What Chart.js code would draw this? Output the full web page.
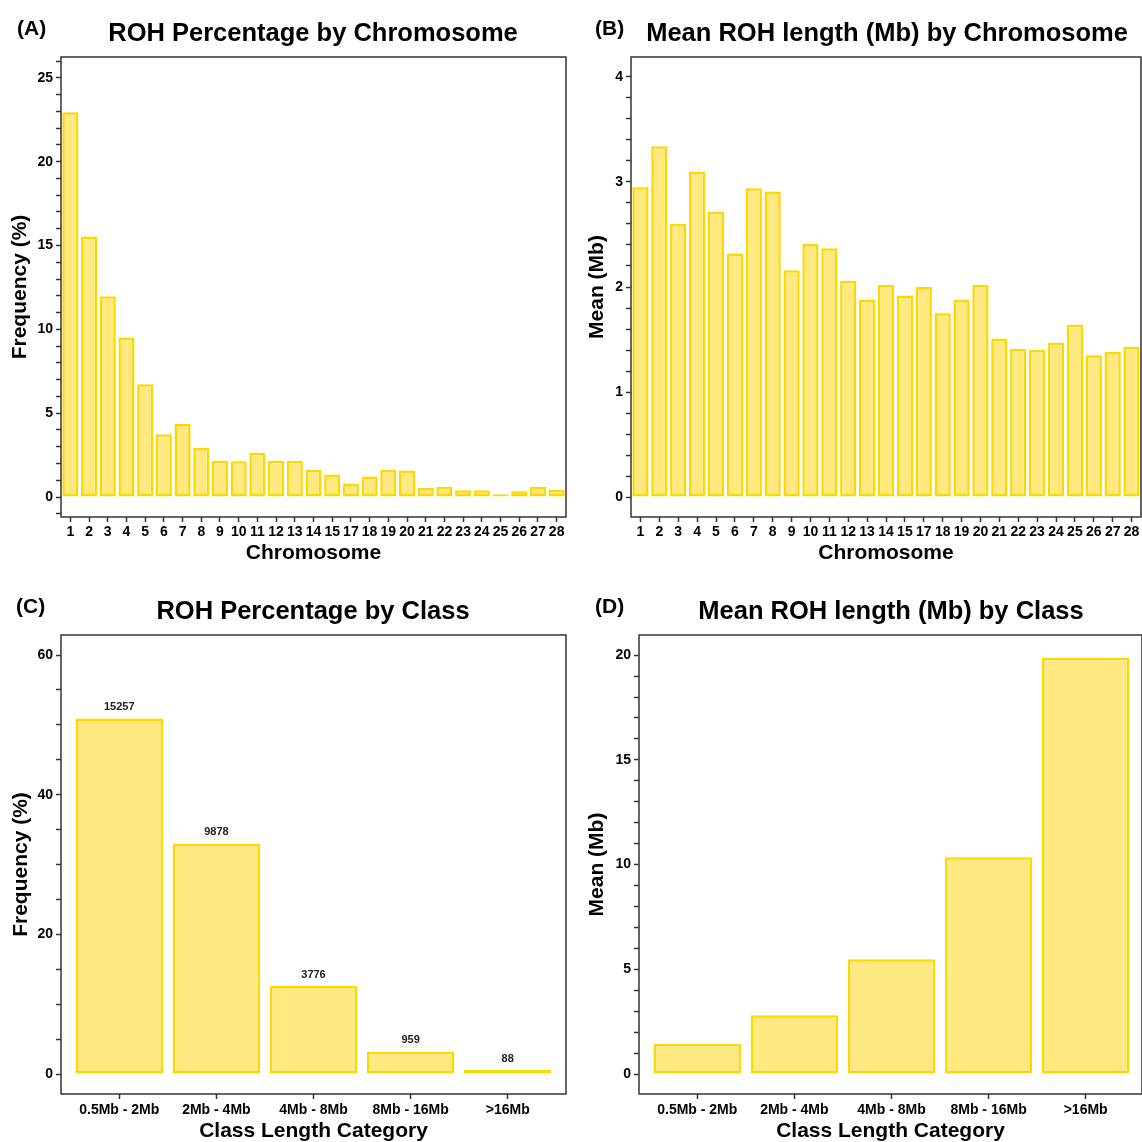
<!DOCTYPE html>
<html>
<head>
<meta charset="utf-8">
<script src="https://cdn.jsdelivr.net/npm/chart.js@4.4.0/dist/chart.umd.min.js"></script>
<style>
  body { margin: 0; background: #fff; font-family: 'Liberation Sans', Arial, sans-serif; }
  #fig { position: relative; width: 1142px; height: 1142px; overflow: hidden; }
  canvas { position: absolute; }
  .tag { position: absolute; font-weight: bold; font-size: 21px; color: #000; transform: translateY(-50%); white-space: nowrap; }
  .ttl { position: absolute; font-weight: bold; font-size: 25.5px; color: #000; transform: translate(-50%, -50%); white-space: nowrap; }
</style>
</head>
<body>
<div id="fig">
  <canvas id="chartA" width="571" height="571" style="left:0;top:0"></canvas>
  <canvas id="chartB" width="571" height="571" style="left:571px;top:0"></canvas>
  <canvas id="chartC" width="571" height="571" style="left:0;top:571px"></canvas>
  <canvas id="chartD" width="571" height="571" style="left:571px;top:571px"></canvas>

  <div class="tag" style="left:17px;top:28px">(A)</div>
  <div class="ttl" style="left:313px;top:32px">ROH Percentage by Chromosome</div>
  <div class="tag" style="left:595px;top:28px">(B)</div>
  <div class="ttl" style="left:887px;top:32px">Mean ROH length (Mb) by Chromosome</div>
  <div class="tag" style="left:16px;top:606px">(C)</div>
  <div class="ttl" style="left:313px;top:610px">ROH Percentage by Class</div>
  <div class="tag" style="left:595px;top:606px">(D)</div>
  <div class="ttl" style="left:891px;top:610px">Mean ROH length (Mb) by Class</div>
</div>

<script>
// data
var chromosomes = ['1','2','3','4','5','6','7','8','9','10','11','12','13','14','15',
                   '17','18','19','20','21','22','23','24','25','26','27','28'];
var rohPercent = [22.95, 15.54, 11.98, 9.52, 6.73, 3.75, 4.35, 2.92, 2.16, 2.14, 2.64, 2.16, 2.16, 1.63,
                  1.35, 0.81, 1.23, 1.63, 1.59, 0.54, 0.62, 0.40, 0.40, 0.16, 0.34, 0.62, 0.44];
var rohMean = [2.95, 3.34, 2.60, 3.10, 2.72, 2.32, 2.94, 2.91, 2.16, 2.41, 2.37, 2.06, 1.88, 2.02,
               1.92, 2.00, 1.75, 1.88, 2.02, 1.51, 1.41, 1.40, 1.47, 1.64, 1.35, 1.38, 1.43];
var classes = ['0.5Mb - 2Mb', '2Mb - 4Mb', '4Mb - 8Mb', '8Mb - 16Mb', '>16Mb'];
var classCount = [15257, 9878, 3776, 959, 88];
var classPercent = [50.93, 32.97, 12.60, 3.20, 0.29];
var classMean = [1.45, 2.81, 5.48, 10.35, 19.88];

Chart.defaults.font.family = "'Liberation Sans', Arial, sans-serif";
Chart.defaults.color = '#000';

var FILL = '#FFE980';
var EDGE = '#FFD700';
var AXIS = '#333';

//box around the plot area
var framePlugin = {
    id: 'frame',
    afterDatasetsDraw: function(chart) {
        var a = chart.chartArea, c = chart.ctx;
        c.save();
        c.strokeStyle = AXIS;
        c.lineWidth = 1.5;
        c.strokeRect(a.left, a.top, a.right - a.left, a.bottom - a.top);
        c.restore();
    }
};

//count labels over the bars
var countPlugin = {
    id: 'counts',
    afterDatasetsDraw: function(chart, args, opts) {
        if (!opts.labels) return;
        var c = chart.ctx;
        var bars = chart.getDatasetMeta(0).data;
        c.save();
        c.font = 'bold 11px "Liberation Sans", Arial, sans-serif';
        c.fillStyle = '#222';
        c.textAlign = 'center';
        c.textBaseline = 'bottom';
        bars.forEach(function(b, i) {
            c.fillText(opts.labels[i], b.x, b.y - 6);
        });
        c.restore();
    }
};

function yAxis(p) {
    return {
        min: p.min,
        max: p.max,
        ticks: {
            stepSize: p.step,
            includeBounds: false,
            autoSkip: false,
            padding: 3,
            font: { size: 14, weight: 'bold' },
            callback: function(v) {
                var r = v / p.major;
                return Math.abs(r - Math.round(r)) < 1e-6 ? Math.round(v) : '';
            }
        },
        grid: { drawOnChartArea: false, tickLength: 5, tickColor: AXIS, tickWidth: 1.5 },
        border: { display: false },
        title: { display: true, text: p.title, font: { size: 21, weight: 'bold' }, padding: { top: p.titlePad, bottom: 0 } },
        afterFit: function(s) { s.width = p.width; }
    };
}

function xTicks(size, pad) {
    return { autoSkip: false, maxRotation: 0, minRotation: 0, padding: pad, font: { size: size, weight: 'bold' } };
}

//(A) percentage by chromosome
new Chart(document.getElementById('chartA'), {
    type: 'bar',
    data: {
        labels: chromosomes,
        datasets: [{ data: rohPercent, backgroundColor: FILL, borderColor: EDGE, borderWidth: 2.5,
                     borderSkipped: false, barPercentage: 0.86, categoryPercentage: 1 }]
    },
    options: {
        responsive: false, animation: false,
        layout: { padding: { top: 57, right: 5, left: 0, bottom: 0 } },
        plugins: { legend: { display: false }, tooltip: { enabled: false } },
        scales: {
            x: {
                offset: true,
                grid: { offset: false, drawOnChartArea: false, tickLength: 5, tickColor: AXIS, tickWidth: 1.5 },
                border: { display: false },
                ticks: xTicks(14, 2),
                title: { display: true, text: 'Chromosome', font: { size: 21, weight: 'bold' }, padding: { top: 0, bottom: 5 } },
                afterFit: function(s) { s.height = 54; }
            },
            y: yAxis({ min: -1.19, max: 26.24, step: 1, major: 5, title: 'Frequency (%)', titlePad: 8, width: 61 })
        }
    },
    plugins: [framePlugin]
});

//(B) mean length by chromosome
new Chart(document.getElementById('chartB'), {
    type: 'bar',
    data: {
        labels: chromosomes,
        datasets: [{ data: rohMean, backgroundColor: FILL, borderColor: EDGE, borderWidth: 2.5,
                     borderSkipped: false, barPercentage: 0.86, categoryPercentage: 1 }]
    },
    options: {
        responsive: false, animation: false,
        layout: { padding: { top: 57, right: 1, left: 0, bottom: 0 } },
        plugins: { legend: { display: false }, tooltip: { enabled: false } },
        scales: {
            x: {
                offset: true,
                grid: { offset: false, drawOnChartArea: false, tickLength: 5, tickColor: AXIS, tickWidth: 1.5 },
                border: { display: false },
                ticks: xTicks(14, 2),
                title: { display: true, text: 'Chromosome', font: { size: 21, weight: 'bold' }, padding: { top: 0, bottom: 5 } },
                afterFit: function(s) { s.height = 54; }
            },
            y: yAxis({ min: -0.19, max: 4.19, step: 0.2, major: 1, title: 'Mean (Mb)', titlePad: 14, width: 60 })
        }
    },
    plugins: [framePlugin]
});

function classXAxis(max) {
    return {
        type: 'linear',
        min: -0.6,
        max: max,
        offset: false,
        grid: { offset: false, drawOnChartArea: false, tickLength: 5, tickColor: AXIS, tickWidth: 1.5 },
        border: { display: false },
        ticks: Object.assign(xTicks(14, 3), {
            stepSize: 1,
            includeBounds: false,
            callback: function(v) { return classes[v] !== undefined ? classes[v] : ''; }
        }),
        title: { display: true, text: 'Class Length Category', font: { size: 21, weight: 'bold', lineHeight: 1 }, padding: { top: 0, bottom: 0 } },
        afterFit: function(s) { s.height = 48; }
    };
}

function classData(values) {
    return values.map(function(v, i) { return { x: i, y: v }; });
}

//(C) percentage by class
new Chart(document.getElementById('chartC'), {
    type: 'bar',
    data: {
        datasets: [{ data: classData(classPercent), backgroundColor: FILL, borderColor: EDGE, borderWidth: 2.5,
                     borderSkipped: false, barPercentage: 0.9, categoryPercentage: 1, minBarLength: 4 }]
    },
    options: {
        responsive: false, animation: false,
        layout: { padding: { top: 64, right: 5, left: 0, bottom: 0 } },
        plugins: { legend: { display: false }, tooltip: { enabled: false }, counts: { labels: classCount } },
        scales: {
            x: classXAxis(4.6),
            y: yAxis({ min: -2.86, max: 62.87, step: 5, major: 20, title: 'Frequency (%)', titlePad: 9, width: 61 })
        }
    },
    plugins: [framePlugin, countPlugin]
});

//(D) mean length by class
new Chart(document.getElementById('chartD'), {
    type: 'bar',
    data: {
        datasets: [{ data: classData(classMean), backgroundColor: FILL, borderColor: EDGE, borderWidth: 2.5,
                     borderSkipped: false, barPercentage: 0.9, categoryPercentage: 1 }]
    },
    options: {
        responsive: false, animation: false,
        layout: { padding: { top: 64, right: 0, left: 0, bottom: 0 } },
        plugins: { legend: { display: false }, tooltip: { enabled: false } },
        scales: {
            x: classXAxis(4.58),
            y: yAxis({ min: -0.95, max: 20.96, step: 1, major: 5, title: 'Mean (Mb)', titlePad: 14, width: 68 })
        }
    },
    plugins: [framePlugin]
});
</script>
</body>
</html>
